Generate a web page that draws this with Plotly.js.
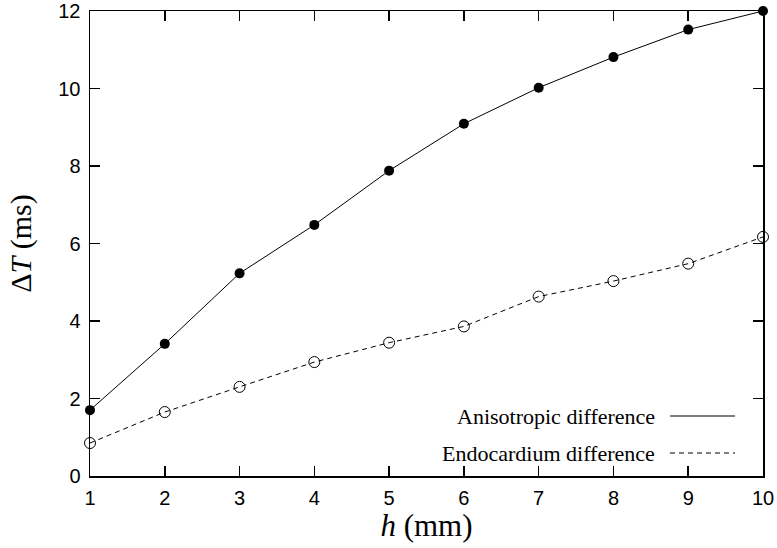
<!DOCTYPE html>
<html>
<head>
<meta charset="utf-8">
<script src="https://cdn.plot.ly/plotly-3.0.1.min.js"></script>
<style>html,body{margin:0;padding:0;background:#fff;}#chart{width:777px;height:548px;}</style>
</head>
<body>
<div id="chart"></div>
<script>
const hValues = [1, 2, 3, 4, 5, 6, 7, 8, 9, 10];
const anisotropic = [1.70, 3.41, 5.23, 6.48, 7.88, 9.09, 10.02, 10.81, 11.52, 12.00];
const endocardium = [0.85, 1.65, 2.30, 2.94, 3.44, 3.86, 4.63, 5.03, 5.48, 6.17];
const seriesNames = ["Anisotropic difference", "Endocardium difference"];
const xTicks = [1, 2, 3, 4, 5, 6, 7, 8, 9, 10];
const yTicks = [0, 2, 4, 6, 8, 10, 12];

const serif = 'Liberation Serif, Times New Roman, serif';
const sans = 'Liberation Sans, Arial, Helvetica, sans-serif';

const traces = [
  {x: hValues, y: anisotropic, name: seriesNames[0], mode: 'lines+markers', cliponaxis: false,
   line: {color: '#000', width: 1}, marker: {symbol: 'circle', size: 10, color: '#000'}, showlegend: false},
  {x: hValues, y: endocardium, name: seriesNames[1], mode: 'lines+markers', cliponaxis: false,
   line: {color: '#000', width: 1, dash: '5px,4px'},
   marker: {symbol: 'circle-open', size: 11, color: '#000', line: {width: 1}}, showlegend: false}
];

const axisCommon = {showgrid: false, zeroline: false, showline: true, linecolor: '#000', linewidth: 1.5,
  mirror: 'allticks', ticks: 'inside', ticklen: 10, tickwidth: 1.5, tickcolor: '#000',
  ticklabeloverflow: 'allow',
  tickfont: {family: sans, size: 20, color: '#000'}};

const plotTop = 11, plotBottom = 476, plotH = plotBottom - plotTop;
const legY1 = (plotBottom - 416) / plotH, legY2 = (plotBottom - 453) / plotH;
const legTextX = (657 - 90) / 673, legL0 = (670 - 90) / 673, legL1 = (735 - 90) / 673;

const layout = {
  width: 777, height: 548,
  margin: {l: 90, r: 14, t: plotTop, b: 548 - plotBottom},
  paper_bgcolor: '#fff', plot_bgcolor: '#fff',
  xaxis: Object.assign({}, axisCommon, {range: [1, 10], tickvals: xTicks, ticklabelstandoff: 3,
    title: {text: '<i>h</i> (mm)', font: {family: serif, size: 31, color: '#000'}, standoff: 4}}),
  yaxis: Object.assign({}, axisCommon, {range: [0, 12], tickvals: yTicks, ticklabelstandoff: 4,
    title: {text: 'Δ<i>T</i> (ms)', font: {family: serif, size: 30, color: '#000'}, standoff: 18}}),
  showlegend: false,
  annotations: [
    {xref: 'paper', yref: 'paper', x: legTextX, y: legY1, xanchor: 'right', yanchor: 'middle',
     text: seriesNames[0], showarrow: false, font: {family: serif, size: 22, color: '#000'}},
    {xref: 'paper', yref: 'paper', x: legTextX, y: legY2, xanchor: 'right', yanchor: 'middle',
     text: seriesNames[1], showarrow: false, font: {family: serif, size: 22, color: '#000'}}
  ],
  shapes: [
    {type: 'line', xref: 'paper', yref: 'paper', x0: legL0, x1: legL1, y0: legY1, y1: legY1,
     line: {color: '#000', width: 1}},
    {type: 'line', xref: 'paper', yref: 'paper', x0: legL0, x1: legL1, y0: legY2, y1: legY2,
     line: {color: '#000', width: 1, dash: '5px,4px'}}
  ]
};

Plotly.newPlot('chart', traces, layout, {displayModeBar: false, staticPlot: true});
</script>
</body>
</html>
